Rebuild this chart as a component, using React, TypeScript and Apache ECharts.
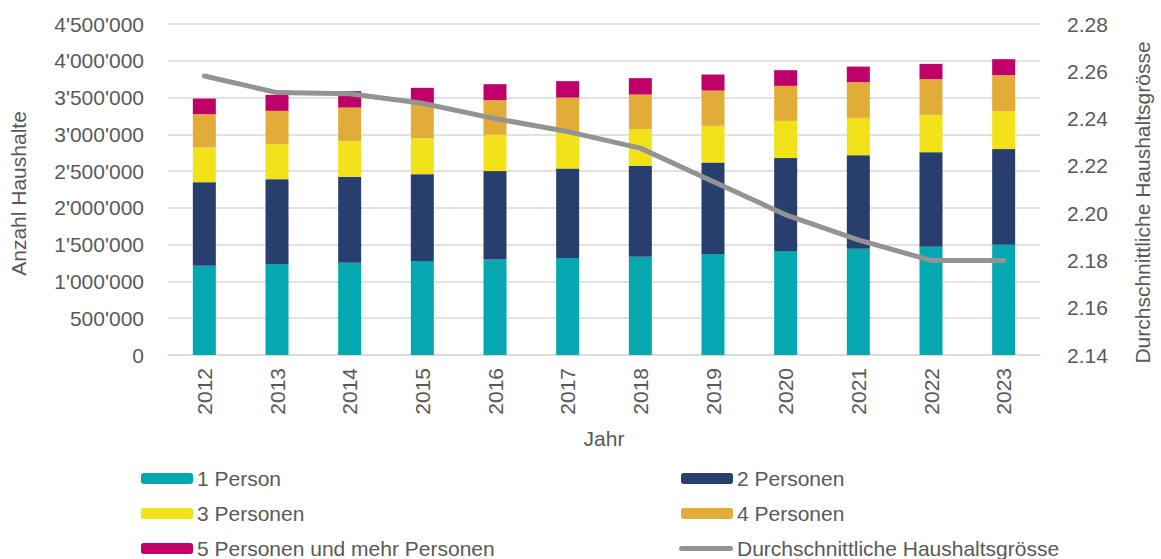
import React, { useEffect, useRef } from "react";
import * as echarts from "echarts";

const years = ["2012", "2013", "2014", "2015", "2016", "2017", "2018", "2019", "2020", "2021", "2022", "2023"];
const person1 = [1213000, 1236000, 1254000, 1277000, 1299000, 1318000, 1336000, 1372000, 1413000, 1444000, 1471000, 1499000];
const person2 = [1137000, 1155000, 1169000, 1182000, 1201000, 1217000, 1236000, 1245000, 1264000, 1273000, 1287000, 1300000];
const person3 = [471000, 476000, 485000, 489000, 493000, 490000, 499000, 498000, 506000, 507000, 507000, 516000];
const person4 = [453000, 452000, 456000, 476000, 472000, 475000, 470000, 480000, 476000, 485000, 485000, 489000];
const person5 = [212000, 218000, 223000, 208000, 217000, 223000, 223000, 218000, 213000, 212000, 208000, 218000];
const avgSize = [2.258, 2.251, 2.2505, 2.2465, 2.24, 2.2345, 2.2275, 2.2134, 2.1993, 2.1887, 2.18, 2.18];

const seriesNames = [
  "1 Person",
  "2 Personen",
  "3 Personen",
  "4 Personen",
  "5 Personen und mehr Personen",
  "Durchschnittliche Haushaltsgrösse",
];
const colors = ["#05A8B0", "#283F6E", "#F2E21A", "#E1AD38", "#BE0068", "#939393"];

const FONT = "Liberation Sans, Arial, sans-serif";
const TXT = "#595959";
const FS = 21;

function fmtThousands(v: number): string {
  return String(Math.round(v)).replace(/\B(?=(\d{3})+(?!\d))/g, "'");
}

export default function App() {
  const ref = useRef<HTMLDivElement>(null);
  useEffect(() => {
    if (!ref.current) return;
    const chart = echarts.init(ref.current, null, { renderer: "svg" });
    const barData = [person1, person2, person3, person4, person5];
    const legendPos = [
      { left: 141, top: 468 },
      { left: 681, top: 468 },
      { left: 141, top: 503 },
      { left: 681, top: 503 },
      { left: 141, top: 538 },
      { left: 679, top: 538 },
    ];
    const option: any = {
      animation: false,
      textStyle: { fontFamily: FONT, color: TXT },
      grid: { left: 167, right: 102, top: 24, bottom: 204, containLabel: false },
      legend: legendPos.map((p, i) => ({
        data: [
          i === 5
            ? { name: seriesNames[i], icon: "path://M2.5,0 H51.5 A2.5,2.5 0 0 1 51.5,5 H2.5 A2.5,2.5 0 0 1 2.5,0 Z" }
            : { name: seriesNames[i] },
        ],
        left: p.left,
        top: p.top,
        padding: 0,
        itemGap: 0,
        itemWidth: i === 5 ? 54 : 52,
        itemHeight: i === 5 ? 5 : 11,
        itemStyle: { color: colors[i] },
        textStyle: { fontFamily: FONT, color: TXT, fontSize: FS, padding: [0, 0, 0, -1] },
        selectedMode: false,
      })),
      xAxis: {
        type: "category",
        data: years,
        name: "Jahr",
        nameLocation: "middle",
        nameGap: 73,
        nameTextStyle: { fontFamily: FONT, color: TXT, fontSize: FS },
        axisLine: { lineStyle: { color: "#d9d9d9", width: 1.5 } },
        axisTick: { show: false },
        axisLabel: { rotate: 90, margin: 13, fontFamily: FONT, color: TXT, fontSize: FS },
      },
      yAxis: [
        {
          type: "value",
          min: 0,
          max: 4500000,
          interval: 500000,
          name: "Anzahl Haushalte",
          nameLocation: "middle",
          nameGap: 139,
          nameTextStyle: { fontFamily: FONT, color: TXT, fontSize: FS, padding: [0, 8, 0, 0] },
          axisLine: { show: false },
          axisTick: { show: false },
          axisLabel: { margin: 24, fontFamily: FONT, color: TXT, fontSize: FS, formatter: (v: number) => fmtThousands(v) },
          splitLine: { lineStyle: { color: "#d9d9d9", width: 1.5 } },
        },
        {
          type: "value",
          min: 2.14,
          max: 2.28,
          interval: 0.02,
          name: "Durchschnittliche Haushaltsgrösse",
          nameLocation: "middle",
          nameGap: 92,
          nameRotate: 90,
          nameTextStyle: { fontFamily: FONT, color: TXT, fontSize: FS, padding: [0, 26, 0, 0] },
          axisLine: { show: false },
          axisTick: { show: false },
          axisLabel: { margin: 27, fontFamily: FONT, color: TXT, fontSize: FS, formatter: (v: number) => v.toFixed(2) },
          splitLine: { show: false },
        },
      ],
      series: [
        ...barData.map((d, i) => ({
          name: seriesNames[i],
          type: "bar",
          stack: "total",
          barWidth: 23,
          data: d,
          itemStyle: { color: colors[i] },
        })),
        {
          name: seriesNames[5],
          type: "line",
          yAxisIndex: 1,
          data: avgSize,
          symbol: "none",
          z: 10,
          lineStyle: { color: colors[5], width: 5, cap: "round", join: "round" },
          itemStyle: { color: colors[5] },
        },
      ],
    };
    chart.setOption(option);
    return () => chart.dispose();
  }, []);
  return <div ref={ref} style={{ width: 1161, height: 559, position: "absolute", left: 0, top: 0 }} />;
}
